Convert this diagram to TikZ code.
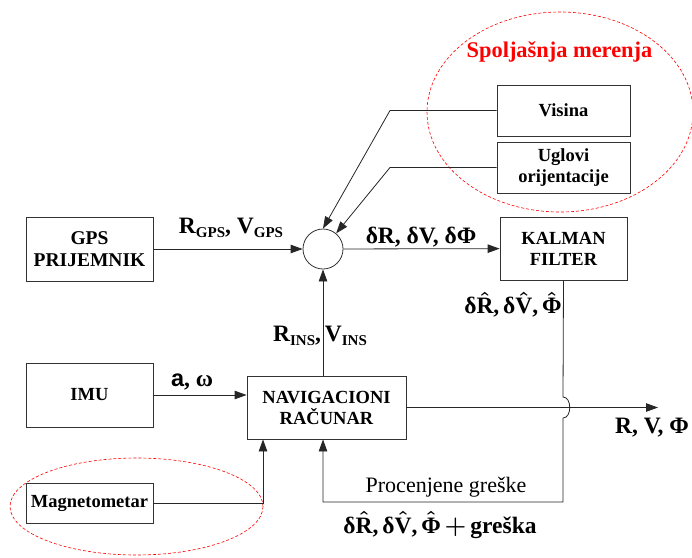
\documentclass[tikz,border=0pt]{standalone}
\usepackage{fontspec}
\usepackage{amsmath}
\setmainfont{Liberation Serif}
\newfontfamily\armfont{Liberation Sans}
\usetikzlibrary{arrows.meta,calc}

% bold text letter with a hat on top
\newcommand{\hatl}[1]{\ensuremath{\boldsymbol{\hat{\text{#1}}}}}
% lowered subscript in text
\newcommand{\lowsub}[1]{\raisebox{-0.35ex}{\fontsize{15}{16}\selectfont #1}}

\tikzset{
  blk/.style={draw=black!80, line width=0.8pt, fill=white, align=center,
    font=\fontsize{18.5}{21}\selectfont\bfseries, inner sep=0pt},
  wire/.style={draw=black!85, line width=0.8pt},
  arr/.style={wire, -{Triangle[length=12pt,width=8.5pt]}},
  lbl/.style={font=\fontsize{23.5}{26}\selectfont\bfseries, inner sep=0pt},
  zone/.style={draw=red, dashed, line width=0.6pt, dash pattern=on 3pt off 2pt},
}

\begin{document}
\begin{tikzpicture}[x=1pt,y=-1pt]
\useasboundingbox (0,0) rectangle (692,557);

% measurement groups
\draw[zone] (560,112) ellipse [x radius=133, y radius=100];
\draw[zone] (136.5,506.5) ellipse [x radius=126.5, y radius=48.5];

% blocks
\node[blk, minimum width=127pt, minimum height=64pt, font=\fontsize{19.5}{22}\selectfont\bfseries] (gps) at (89.5,249) {GPS\\PRIJEMNIK};
\node[blk, minimum width=127pt, minimum height=64pt] (imu) at (89.5,395) {IMU};
\node[blk, minimum width=159pt, minimum height=63pt] (nav) at (326.5,407.5) {NAVIGACIONI\\RAČUNAR};
\node[blk, minimum width=127pt, minimum height=63pt] (kal) at (563.5,248.5) {KALMAN\\FILTER};
\node[blk, minimum width=133pt, minimum height=51pt] (vis) at (563.5,110.5) {Visina};
\node[blk, minimum width=133pt, minimum height=51pt] (ugl) at (563.5,167.5) {Uglovi\\orijentacije};
\node[blk, minimum width=127pt, minimum height=40pt] (mag) at (89.5,503) {Magnetometar};
\node[draw=black!80, line width=0.8pt, circle, minimum size=40pt, inner sep=0pt] (sum) at (323,249) {};

% turning points
\coordinate (visc) at (390,110.5);
\coordinate (uglc) at (390,167.5);
\coordinate (magc) at (263,503);
\coordinate (kalc) at (563,502);
\coordinate (out) at (658,407.5);

% connectors
\draw[arr] (gps) -- (sum);
\draw[arr] (sum) -- (kal);
\draw[arr] (vis.west) -- (visc) -- (sum.north);
\draw[arr] (ugl.west) -- (uglc) -- (sum.50);
\draw[arr] (sum |- nav.north) -- (sum.south);
\draw[arr] (imu.east) -- (imu.east -| nav.west);
\draw[arr] (mag.east) -- (magc) -- (magc |- nav.south);
\draw[arr] (nav.east) -- (out);
\draw[arr] (kal.south) -- (563,397) .. controls (572,397) and (572,418) .. (563,418)
  -- (kalc) -- (sum |- kalc) -- (sum |- nav.south);

% labels
\node[lbl] (lgps) at (231,228) {R\lowsub{GPS}, V\lowsub{GPS}};
\node[lbl] (lerr) at (421,237) {δR, δV, δΦ};
\node[lbl] (lest) at (513,305) {δ\hatl{R},\,δ\hatl{V},\,\hatl{Φ}};
\node[lbl] (lins) at (320,336) {R\lowsub{INS},\,V\lowsub{INS}};
\node[lbl] (limu) at (192,382) {{\armfont a}, ω};
\node[lbl] (lout) at (652,428) {R, V, Φ};
\node[font=\fontsize{22}{24}\selectfont, inner sep=0pt] (lproc) at (446,487) {Procenjene greške};
\node[lbl] (lcorr) at (440,525) {δ\hatl{R},\,δ\hatl{V},\,\hatl{Φ}\,$\boldsymbol{+}$\,greška};
\node[lbl, font=\fontsize{22.4}{25}\selectfont\bfseries, text=red] (lext) at (559.5,52) {Spoljašnja merenja};
\end{tikzpicture}
\end{document}
